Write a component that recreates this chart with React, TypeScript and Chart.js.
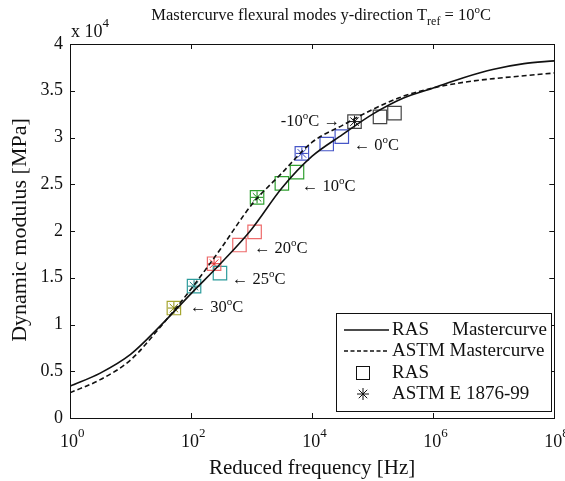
import React, { useEffect, useRef } from 'react';
import { Chart, registerables } from 'chart.js';
Chart.register(...registerables);

// Master curves (reduced frequency in Hz, modulus in MPa)
const curveFreq = [1, 3.16, 10, 31.6, 100, 316, 1000, 3160, 1e4, 3.16e4, 1e5, 3.16e5, 1e6, 3.16e6, 1e7, 3.16e7, 1e8];
const rasCurve = [3400, 4800, 6800, 9900, 13300, 16600, 20200, 24600, 28000, 30300, 32500, 34200, 35300, 36400, 37300, 37900, 38200];
const astmCurve = [2700, 4100, 6200, 9800, 13800, 18200, 22800, 26200, 29500, 31300, 33000, 34400, 35300, 35900, 36300, 36600, 36900];

// RAS measured points
const rasFreq = [52, 112, 300, 240, 630, 1120, 1230, 3160, 5620, 6760, 17400, 30900, 50100, 132000, 229000];
const rasModulus = [11760, 14100, 15500, 16500, 18500, 19900, 23600, 25100, 26300, 28300, 29300, 30100, 31700, 32200, 32600];
const rasTemp = [30, 25, 25, 20, 20, 20, 10, 10, 10, 0, 0, 0, -10, -10, -10];

// ASTM E 1876-99 points
const astmFreq = [52, 112, 240, 1230, 6760, 50100];
const astmModulus = [11760, 14100, 16500, 23600, 28300, 31700];
const astmTemp = [30, 25, 20, 10, 0, -10];

// Temperature labels
const labelTemp = ['30', '25', '20', '10', '0', '-10'];
const labelFreq = [95, 470, 1090, 6740, 48600, 3030];
const labelModulus = [11760, 14760, 18070, 24700, 29100, 31660];

// Ticks
const yTicks = [0, 5000, 10000, 15000, 20000, 25000, 30000, 35000, 40000];
const yTickLabels = ['0', '0.5', '1', '1.5', '2', '2.5', '3', '3.5', '4'];
const xTicks = [1, 1e2, 1e4, 1e6, 1e8];
const xTickExp = ['0', '2', '4', '6', '8'];

const tempColor: Record<string, string> = {
  '30': '#a6a630',
  '25': '#2c9c9c',
  '20': '#ee6b6b',
  '10': '#30a030',
  '0': '#4656c8',
  '-10': '#444444',
};
const astmColor: Record<string, string> = {
  '30': '#8a8a10',
  '25': '#1a8080',
  '20': '#e03030',
  '10': '#108a10',
  '0': '#3040c0',
  '-10': '#111111',
};

const FONT = '"Liberation Serif", "Times New Roman", serif';

type Part = { t: string; s: number; dy: number };
function drawRich(ctx: CanvasRenderingContext2D, parts: Part[], x: number, y: number, align: 'left' | 'center' | 'right') {
  let total = 0;
  for (const p of parts) {
    ctx.font = `${p.s}px ${FONT}`;
    total += ctx.measureText(p.t).width;
  }
  let cx = align === 'left' ? x : align === 'center' ? x - total / 2 : x - total;
  ctx.textAlign = 'left';
  for (const p of parts) {
    ctx.font = `${p.s}px ${FONT}`;
    ctx.fillText(p.t, cx, y + p.dy);
    cx += ctx.measureText(p.t).width;
  }
}

const decorPlugin = {
  id: 'decor',
  afterDatasetsDraw(chart: any) {
    const { ctx, chartArea: a, scales } = chart;
    const xs = scales.x;
    const ys = scales.y;
    ctx.save();
    ctx.fillStyle = '#111';
    ctx.strokeStyle = '#111';
    ctx.textBaseline = 'alphabetic';

    // frame
    ctx.lineWidth = 1;
    ctx.strokeRect(Math.round(a.left) + 0.5, Math.round(a.top) + 0.5, Math.round(a.right - a.left), Math.round(a.bottom - a.top));

    // ticks inward
    const tl = 5;
    ctx.beginPath();
    xTicks.forEach((v) => {
      const px = Math.round(xs.getPixelForValue(v)) + 0.5;
      ctx.moveTo(px, a.bottom);
      ctx.lineTo(px, a.bottom - tl);
      ctx.moveTo(px, a.top);
      ctx.lineTo(px, a.top + tl);
    });
    yTicks.forEach((v) => {
      const py = Math.round(ys.getPixelForValue(v)) + 0.5;
      ctx.moveTo(a.left, py);
      ctx.lineTo(a.left + tl, py);
      ctx.moveTo(a.right, py);
      ctx.lineTo(a.right - tl, py);
    });
    ctx.stroke();

    // y tick labels
    ctx.font = `18px ${FONT}`;
    ctx.textAlign = 'right';
    ctx.textBaseline = 'middle';
    yTicks.forEach((v, i) => {
      ctx.fillText(yTickLabels[i], a.left - 7, ys.getPixelForValue(v));
    });
    ctx.textBaseline = 'alphabetic';

    // x tick labels
    xTicks.forEach((v, i) => {
      const px = xs.getPixelForValue(v);
      ctx.font = `18px ${FONT}`;
      const w = ctx.measureText('10').width;
      drawRich(ctx, [{ t: '10', s: 18, dy: 0 }, { t: xTickExp[i], s: 13, dy: -10 }], px - w / 2 - 1, a.bottom + 29, 'left');
    });

    // x10^4 multiplier
    drawRich(ctx, [{ t: 'x 10', s: 18, dy: 0 }, { t: '4', s: 13, dy: -10 }], a.left + 1, a.top - 7, 'left');

    // axis titles
    ctx.fillStyle = '#111';
    drawRich(ctx, [{ t: 'Reduced frequency [Hz]', s: 21, dy: 0 }], (a.left + a.right) / 2, 474, 'center');
    ctx.save();
    ctx.translate(26, (a.top + a.bottom) / 2 - 1);
    ctx.rotate(-Math.PI / 2);
    drawRich(ctx, [{ t: 'Dynamic modulus [MPa]', s: 22, dy: 0 }], 0, 0, 'center');
    ctx.restore();

    // title
    drawRich(
      ctx,
      [
        { t: 'Mastercurve flexural modes y-direction T', s: 16.5, dy: 0 },
        { t: 'ref', s: 12, dy: 5 },
        { t: ' = 10', s: 16.5, dy: 0 },
        { t: 'o', s: 11, dy: -7 },
        { t: 'C', s: 16.5, dy: 0 },
      ],
      (a.left + a.right) / 2 + 9,
      20,
      'center'
    );

    // temperature labels
    ctx.textBaseline = 'middle';
    labelTemp.forEach((t, i) => {
      const px = xs.getPixelForValue(labelFreq[i]);
      const py = ys.getPixelForValue(labelModulus[i]);
      if (t === '-10') {
        drawRich(ctx, [{ t: '-10', s: 16.5, dy: 0 }, { t: 'o', s: 11, dy: -6 }, { t: 'C \u2192', s: 16.5, dy: 0 }], px, py, 'left');
      } else {
        drawRich(ctx, [{ t: '\u2190 ' + t, s: 16.5, dy: 0 }, { t: 'o', s: 11, dy: -6 }, { t: 'C', s: 16.5, dy: 0 }], px, py, 'left');
      }
    });

    // legend
    const lx = 336.5, ly = 313.5, lw = 215, lh = 98;
    ctx.fillStyle = '#fff';
    ctx.fillRect(lx, ly, lw, lh);
    ctx.strokeStyle = '#111';
    ctx.lineWidth = 1;
    ctx.strokeRect(lx, ly, lw, lh);
    ctx.fillStyle = '#111';
    const rows = [330, 351, 373, 394];
    ctx.lineWidth = 1.5;
    ctx.beginPath();
    ctx.moveTo(344, rows[0]);
    ctx.lineTo(389, rows[0]);
    ctx.stroke();
    ctx.setLineDash([4, 2.5]);
    ctx.beginPath();
    ctx.moveTo(344, rows[1]);
    ctx.lineTo(389, rows[1]);
    ctx.stroke();
    ctx.setLineDash([]);
    ctx.lineWidth = 1;
    ctx.strokeRect(356.5, rows[2] - 6.5, 13, 13);
    ctx.beginPath();
    for (let k = 0; k < 4; k++) {
      const ang = (k * Math.PI) / 4;
      ctx.moveTo(363 - Math.cos(ang) * 6, rows[3] - Math.sin(ang) * 6);
      ctx.lineTo(363 + Math.cos(ang) * 6, rows[3] + Math.sin(ang) * 6);
    }
    ctx.stroke();
    ctx.textBaseline = 'middle';
    drawRich(ctx, [{ t: 'RAS', s: 19, dy: 0 }], 392, rows[0], 'left');
    drawRich(ctx, [{ t: 'Mastercurve', s: 19, dy: 0 }], 452, rows[0], 'left');
    drawRich(ctx, [{ t: 'ASTM Mastercurve', s: 19, dy: 0 }], 392, rows[1], 'left');
    drawRich(ctx, [{ t: 'RAS', s: 19, dy: 0 }], 392, rows[2], 'left');
    drawRich(ctx, [{ t: 'ASTM E 1876-99', s: 19, dy: 0 }], 392, rows[3], 'left');

    ctx.restore();
  },
};

export default function App() {
  const ref = useRef<HTMLCanvasElement | null>(null);
  useEffect(() => {
    document.body.style.margin = '0';
    const canvas = ref.current!;
    const chart = new Chart(canvas, {
      type: 'scatter',
      data: {
        datasets: [
          {
            label: 'RAS Mastercurve',
            data: curveFreq.map((f, i) => ({ x: f, y: rasCurve[i] })),
            showLine: true,
            borderColor: '#111',
            borderWidth: 1.6,
            pointRadius: 0,
            cubicInterpolationMode: 'monotone',
          },
          {
            label: 'ASTM Mastercurve',
            data: curveFreq.map((f, i) => ({ x: f, y: astmCurve[i] })),
            showLine: true,
            borderColor: '#111',
            borderWidth: 1.6,
            borderDash: [5, 3],
            pointRadius: 0,
            cubicInterpolationMode: 'monotone',
          },
          {
            label: 'RAS',
            data: rasFreq.map((f, i) => ({ x: f, y: rasModulus[i] })),
            showLine: false,
            pointStyle: 'rect',
            pointRadius: 9.5,
            pointBorderWidth: 1.2,
            pointBackgroundColor: 'rgba(0,0,0,0)',
            pointBorderColor: rasTemp.map((t) => tempColor[String(t)]),
          },
          {
            label: 'ASTM E 1876-99',
            data: astmFreq.map((f, i) => ({ x: f, y: astmModulus[i] })),
            showLine: false,
            pointStyle: 'star',
            pointRadius: 6,
            pointBorderWidth: 1,
            pointBackgroundColor: 'rgba(0,0,0,0)',
            pointBorderColor: astmTemp.map((t) => astmColor[String(t)]),
          },
        ],
      },
      options: {
        responsive: false,
        animation: false,
        layout: { padding: { left: 70, top: 44, right: 10, bottom: 63 } },
        plugins: { legend: { display: false }, tooltip: { enabled: false }, title: { display: false } },
        scales: {
          x: {
            type: 'logarithmic',
            min: 1,
            max: 1e8,
            ticks: { display: false },
            grid: { display: false, drawTicks: false },
            border: { display: false },
          },
          y: {
            type: 'linear',
            min: 0,
            max: 40000,
            ticks: { display: false },
            grid: { display: false, drawTicks: false },
            border: { display: false },
          },
        },
      },
      plugins: [decorPlugin],
    } as any);
    return () => chart.destroy();
  }, []);
  return <canvas ref={ref} width={565} height={481} style={{ display: 'block' }} />;
}
